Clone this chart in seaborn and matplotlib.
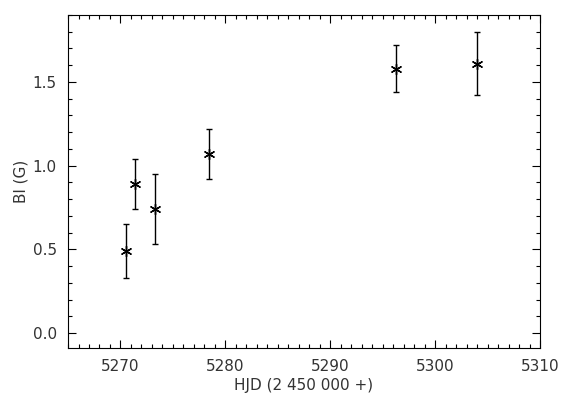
import numpy as np
import pandas as pd
import seaborn as sns
import matplotlib.pyplot as plt
from matplotlib.ticker import MultipleLocator

hjd = [5270.5, 5271.4, 5273.3, 5278.4, 5296.3, 5304.0]
bl = [0.49, 0.89, 0.74, 1.07, 1.58, 1.61]
err_hi = [0.65, 1.04, 0.95, 1.22, 1.72, 1.80]
err_lo = [0.33, 0.74, 0.53, 0.92, 1.44, 1.42]

df = pd.DataFrame({'HJD': hjd, 'Bl': bl})
yerr = np.array([np.array(bl) - np.array(err_lo), np.array(err_hi) - np.array(bl)])

sns.set_style('ticks')
plt.rcParams['font.family'] = ['DejaVu Sans']
fig = plt.figure(figsize=(5.73, 4.12), dpi=100)
ax = fig.add_axes([0.1187, 0.155, 0.8237, 0.8086])

ax.errorbar(hjd, bl, yerr=yerr, fmt='none', ecolor='black', elinewidth=1.0,
            capsize=2.5, capthick=1.0)
sns.scatterplot(data=df, x='HJD', y='Bl', ax=ax, marker=(6, 2, 0), s=55,
                color='black', linewidth=1.0, edgecolor='black', zorder=3)

ax.set_xlim(5265, 5310)
ax.set_ylim(-0.09, 1.9)
ax.xaxis.set_major_locator(MultipleLocator(10))
ax.xaxis.set_minor_locator(MultipleLocator(1))
ax.yaxis.set_major_locator(MultipleLocator(0.5))
ax.yaxis.set_minor_locator(MultipleLocator(0.1))
ax.yaxis.set_major_formatter(plt.FormatStrFormatter('%.1f'))
ax.tick_params(which='both', direction='in', top=True, right=True,
               labelsize=11, color='black', labelcolor='#333333', width=0.8, pad=8)
ax.tick_params(which='major', length=6)
ax.tick_params(which='minor', length=3)
for sp in ax.spines.values():
    sp.set_visible(True)
    sp.set_linewidth(0.8)
    sp.set_color('black')

ax.set_xlabel('HJD (2 450 000 +)', fontsize=11, labelpad=3, color='#333333')
ax.set_ylabel('Bl (G)', fontsize=11, labelpad=3, color='#333333')

fig.savefig('out.png', dpi=100)
